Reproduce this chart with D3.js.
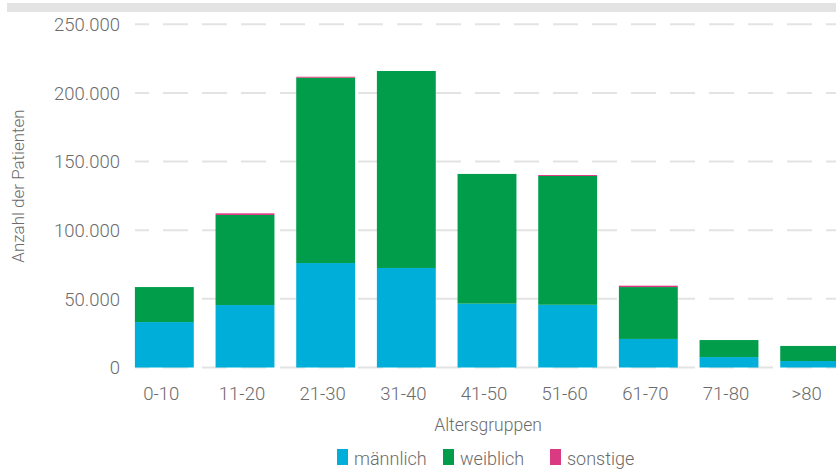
<!DOCTYPE html>
<html>
<head>
<meta charset="utf-8">
<script src="https://cdn.jsdelivr.net/npm/d3@7"></script>
<style>
  body { margin: 0; background: #fff; }
  text { font-family: Roboto, "Open Sans", sans-serif; font-weight: 300; fill: #6b6b6b; }
</style>
</head>
<body>
<div id="chart"></div>
<script>
// Altersgruppen und Patientenzahlen
var gruppen = ["0-10", "11-20", "21-30", "31-40", "41-50", "51-60", "61-70", "71-80", ">80"];
var maennlich = [33100, 45500, 76100, 72500, 46500, 45700, 20800, 7600, 4700];
var weiblich = [25500, 65600, 135000, 143500, 94500, 93800, 37800, 12400, 11000];
var sonstige = [0, 1200, 700, 0, 0, 700, 1000, 0, 0];
var yTicks = [0, 50000, 100000, 150000, 200000, 250000];
var serien = ["männlich", "weiblich", "sonstige"];
var farben = ["#00afd9", "#029d4b", "#d93a82"];

var width = 836, height = 472;

var svg = d3.select("#chart").append("svg")
    .attr("width", width)
    .attr("height", height);

// graue Leiste oben
svg.append("rect")
    .attr("x", 7).attr("y", 3)
    .attr("width", width - 7).attr("height", 9)
    .attr("fill", "#e3e3e3");

var rows = gruppen.map(function (g, i) {
    return { gruppe: g, "männlich": maennlich[i], "weiblich": weiblich[i], "sonstige": sonstige[i] };
});

var x = d3.scaleBand()
    .domain(gruppen)
    .range([124, 850])
    .paddingInner(0.27)
    .paddingOuter(0.135);

var y = d3.scaleLinear()
    .domain([0, 250000])
    .range([367.5, 24.3]);

var fmt = function (d) { return d3.format(",")(d).replace(/,/g, "."); };

// gitterlinien
svg.append("g")
    .selectAll("line")
    .data(yTicks)
    .enter()
    .append("line")
    .attr("x1", 135)
    .attr("x2", width)
    .attr("y1", function (d) { return y(d); })
    .attr("y2", function (d) { return y(d); })
    .attr("stroke", "#e3e3e3")
    .attr("stroke-width", 2)
    .attr("stroke-dasharray", "25,14")
    .attr("stroke-dashoffset", 11);

// y achse beschriftung
svg.append("g")
    .selectAll("text")
    .data(yTicks)
    .enter()
    .append("text")
    .attr("x", 120)
    .attr("y", function (d) { return y(d); })
    .attr("dy", "0.36em")
    .attr("text-anchor", "end")
    .attr("font-size", 18.5)
    .text(fmt);

var stack = d3.stack().keys(serien);
var stacked = stack(rows);

svg.append("g")
    .selectAll("g")
    .data(stacked)
    .enter()
    .append("g")
    .attr("fill", function (d, i) { return farben[i]; })
    .selectAll("rect")
    .data(function (d) { return d; })
    .enter()
    .append("rect")
    .attr("x", function (d) { return x(d.data.gruppe); })
    .attr("width", x.bandwidth())
    .attr("y", function (d) { return y(d[1]); })
    .attr("height", function (d) { return y(d[0]) - y(d[1]); });

// x achse beschriftung
svg.append("g")
    .selectAll("text")
    .data(gruppen)
    .enter()
    .append("text")
    .attr("x", function (d) { return x(d) + x.bandwidth() / 2 - 3; })
    .attr("y", 393)
    .attr("dy", "0.36em")
    .attr("text-anchor", "middle")
    .attr("font-size", 18.5)
    .text(function (d) { return d; });

svg.append("text")
    .attr("x", 488)
    .attr("y", 425)
    .attr("dy", "0.36em")
    .attr("text-anchor", "middle")
    .attr("font-size", 17.5)
    .text("Altersgruppen");

svg.append("text")
    .attr("transform", "translate(18,186) rotate(-90)")
    .attr("dy", "0.36em")
    .attr("text-anchor", "middle")
    .attr("font-size", 17)
    .text("Anzahl der Patienten");

// legende
var legX = [337, 443, 550];
var leg = svg.append("g")
    .selectAll("g")
    .data(serien)
    .enter()
    .append("g")
    .attr("transform", function (d, i) { return "translate(" + legX[i] + ",449)"; });

leg.append("rect")
    .attr("width", 11)
    .attr("height", 16)
    .attr("fill", function (d, i) { return farben[i]; });

leg.append("text")
    .attr("x", 17)
    .attr("y", 10)
    .attr("dy", "0.36em")
    .attr("font-size", 18)
    .text(function (d) { return d; });
</script>
</body>
</html>
